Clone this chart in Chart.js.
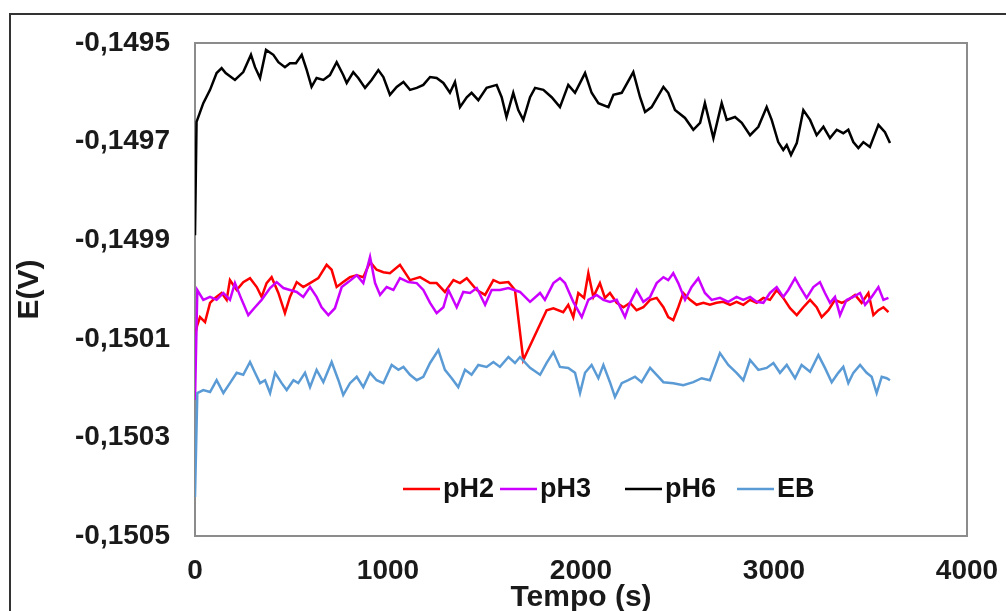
<!DOCTYPE html>
<html>
<head>
<meta charset="utf-8">
<script src="https://cdn.jsdelivr.net/npm/chart.js@4/dist/chart.umd.min.js"></script>
<style>
  html, body { margin: 0; padding: 0; background: #fff; overflow: hidden; }
  #frame { position: absolute; left: 9px; top: 13px; width: 1100px; height: 700px; border: 2px solid #333; }
  #wrap { position: absolute; left: 0; top: 0; width: 1006px; height: 620px; }
</style>
</head>
<body>
<div id="frame"></div>
<div id="wrap"><canvas id="grafico"></canvas></div>
<script>
// tempo (s) e potencial E(V)
var xTicks = [0, 1000, 2000, 3000, 4000];
var yTicks = [-0.1505, -0.1503, -0.1501, -0.1499, -0.1497, -0.1495];

var tPH6 = [0,8,43,78,112,138,159,207,250,290,311,337,368,406,432,466,492,523,553,579,604,630,665,699,734,768,786,820,846,881,915,950,976,1010,1045,1080,1114,1149,1183,1218,1252,1287,1321,1347,1373,1408,1433,1468,1511,1563,1589,1614,1649,1675,1701,1736,1762,1805,1848,1891,1934,1969,2021,2055,2090,2142,2168,2211,2271,2306,2332,2366,2427,2452,2487,2539,2582,2617,2642,2686,2729,2755,2798,2833,2876,2919,2962,2988,3022,3048,3066,3088,3118,3152,3187,3221,3256,3290,3325,3359,3385,3411,3437,3463,3497,3541,3575,3601];
var ePH6 = [-0.149890,-0.149660,-0.149622,-0.149595,-0.149561,-0.149551,-0.149561,-0.149575,-0.149559,-0.149524,-0.149549,-0.149571,-0.149514,-0.149524,-0.149539,-0.149549,-0.149541,-0.149541,-0.149524,-0.149555,-0.149589,-0.149571,-0.149575,-0.149565,-0.149539,-0.149565,-0.149581,-0.149559,-0.149571,-0.149591,-0.149575,-0.149555,-0.149569,-0.149605,-0.149589,-0.149579,-0.149595,-0.149591,-0.149585,-0.149569,-0.149571,-0.149581,-0.149601,-0.149579,-0.149630,-0.149610,-0.149601,-0.149616,-0.149591,-0.149585,-0.149610,-0.149650,-0.149601,-0.149636,-0.149656,-0.149610,-0.149591,-0.149595,-0.149610,-0.149630,-0.149585,-0.149601,-0.149561,-0.149601,-0.149622,-0.149630,-0.149605,-0.149601,-0.149559,-0.149610,-0.149640,-0.149630,-0.149589,-0.149601,-0.149636,-0.149652,-0.149676,-0.149662,-0.149622,-0.149693,-0.149622,-0.149656,-0.149650,-0.149662,-0.149687,-0.149670,-0.149630,-0.149656,-0.149701,-0.149717,-0.149707,-0.149727,-0.149703,-0.149636,-0.149656,-0.149687,-0.149670,-0.149693,-0.149676,-0.149683,-0.149676,-0.149701,-0.149713,-0.149701,-0.149711,-0.149666,-0.149681,-0.149703];

var tPH2 = [0,12,26,52,78,104,138,164,181,216,250,285,320,345,371,397,432,466,492,527,561,596,639,682,708,734,768,803,838,872,907,941,976,1010,1062,1114,1166,1218,1252,1295,1339,1373,1408,1460,1503,1546,1580,1624,1658,1701,1822,1857,1908,1934,1960,1986,2016,2038,2064,2098,2124,2150,2185,2220,2254,2288,2323,2358,2392,2427,2452,2478,2504,2530,2565,2599,2634,2668,2702,2737,2772,2806,2841,2876,2910,2945,2979,3014,3048,3083,3118,3152,3187,3221,3247,3282,3316,3351,3385,3420,3454,3489,3515,3541,3567,3593];
var ePH2 = [-0.150092,-0.150072,-0.150056,-0.150066,-0.150027,-0.150017,-0.150007,-0.150021,-0.149981,-0.150001,-0.149985,-0.149977,-0.149995,-0.150015,-0.149987,-0.149975,-0.150007,-0.150048,-0.150015,-0.149985,-0.149995,-0.149987,-0.149977,-0.149950,-0.149960,-0.149995,-0.149985,-0.149975,-0.149971,-0.149975,-0.149944,-0.149960,-0.149965,-0.149967,-0.149950,-0.149981,-0.149975,-0.149987,-0.149987,-0.150005,-0.149981,-0.149987,-0.149977,-0.150001,-0.150011,-0.149981,-0.149987,-0.149985,-0.150001,-0.150143,-0.150042,-0.150038,-0.150046,-0.150031,-0.150056,-0.150007,-0.150017,-0.149967,-0.150015,-0.149987,-0.150017,-0.150007,-0.150027,-0.150036,-0.150027,-0.150042,-0.150036,-0.150021,-0.150017,-0.150036,-0.150056,-0.150062,-0.150036,-0.150007,-0.150021,-0.150031,-0.150027,-0.150031,-0.150027,-0.150025,-0.150031,-0.150025,-0.150031,-0.150021,-0.150027,-0.150017,-0.150021,-0.150001,-0.150017,-0.150038,-0.150052,-0.150036,-0.150021,-0.150036,-0.150056,-0.150042,-0.150021,-0.150027,-0.150021,-0.150011,-0.150027,-0.150007,-0.150052,-0.150042,-0.150036,-0.150046];

var tPH3 = [0,12,43,78,112,147,181,207,242,276,311,345,389,423,458,492,527,561,596,630,656,691,725,760,794,838,872,907,933,959,993,1028,1062,1105,1149,1183,1218,1252,1287,1313,1356,1390,1425,1460,1503,1537,1580,1624,1684,1736,1788,1813,1857,1891,1917,1960,2004,2038,2081,2116,2150,2185,2228,2254,2288,2323,2358,2392,2427,2452,2478,2504,2539,2573,2608,2642,2677,2720,2763,2806,2841,2876,2910,2945,2979,3014,3048,3074,3109,3135,3169,3204,3238,3264,3290,3316,3342,3376,3411,3446,3472,3506,3541,3567,3593];
var ePH3 = [-0.150224,-0.150001,-0.150021,-0.150015,-0.150021,-0.150007,-0.150021,-0.149987,-0.150021,-0.150052,-0.150036,-0.150021,-0.149997,-0.149985,-0.149997,-0.150001,-0.150005,-0.150015,-0.149995,-0.150015,-0.150036,-0.150052,-0.150038,-0.149995,-0.149985,-0.149971,-0.149987,-0.149934,-0.149987,-0.150011,-0.149995,-0.150001,-0.149977,-0.149985,-0.149987,-0.150001,-0.150027,-0.150048,-0.150036,-0.150001,-0.150036,-0.150005,-0.150007,-0.149997,-0.150031,-0.150001,-0.150001,-0.149997,-0.150005,-0.150025,-0.150007,-0.150021,-0.149987,-0.149977,-0.149987,-0.150025,-0.150056,-0.150021,-0.150011,-0.150021,-0.150025,-0.150021,-0.150056,-0.150027,-0.150001,-0.150025,-0.150015,-0.149987,-0.149975,-0.149981,-0.149967,-0.149987,-0.150021,-0.149995,-0.149977,-0.150007,-0.150021,-0.150017,-0.150025,-0.150015,-0.150021,-0.150015,-0.150025,-0.150027,-0.150007,-0.149995,-0.150015,-0.150001,-0.149977,-0.149995,-0.150017,-0.149995,-0.149985,-0.150007,-0.150027,-0.150015,-0.150052,-0.150021,-0.150015,-0.150007,-0.150031,-0.150015,-0.149995,-0.150021,-0.150017];

var tEB = [0,12,43,78,112,147,181,216,250,285,311,337,363,389,415,449,475,510,535,570,596,630,665,708,743,768,803,838,872,907,941,976,1019,1054,1080,1114,1149,1183,1218,1261,1295,1330,1364,1399,1433,1468,1511,1546,1580,1624,1658,1684,1736,1788,1822,1857,1891,1934,1969,1995,2021,2055,2090,2116,2150,2176,2211,2245,2280,2314,2358,2392,2427,2478,2530,2582,2625,2668,2720,2763,2806,2841,2876,2919,2962,2997,3031,3066,3109,3143,3187,3230,3264,3299,3333,3359,3385,3411,3446,3480,3506,3532,3558,3584,3601];
var eEB = [-0.150421,-0.150210,-0.150204,-0.150208,-0.150184,-0.150210,-0.150190,-0.150169,-0.150173,-0.150147,-0.150169,-0.150190,-0.150184,-0.150210,-0.150169,-0.150190,-0.150204,-0.150184,-0.150190,-0.150169,-0.150198,-0.150163,-0.150188,-0.150147,-0.150184,-0.150214,-0.150190,-0.150177,-0.150198,-0.150169,-0.150184,-0.150190,-0.150153,-0.150163,-0.150157,-0.150173,-0.150184,-0.150177,-0.150149,-0.150123,-0.150163,-0.150180,-0.150198,-0.150163,-0.150173,-0.150153,-0.150157,-0.150147,-0.150157,-0.150137,-0.150149,-0.150137,-0.150159,-0.150173,-0.150149,-0.150127,-0.150157,-0.150159,-0.150169,-0.150210,-0.150169,-0.150153,-0.150180,-0.150153,-0.150188,-0.150218,-0.150190,-0.150184,-0.150177,-0.150188,-0.150159,-0.150173,-0.150188,-0.150190,-0.150194,-0.150188,-0.150180,-0.150184,-0.150129,-0.150153,-0.150169,-0.150184,-0.150143,-0.150163,-0.150159,-0.150149,-0.150169,-0.150153,-0.150180,-0.150153,-0.150167,-0.150133,-0.150159,-0.150188,-0.150169,-0.150157,-0.150190,-0.150169,-0.150153,-0.150169,-0.150177,-0.150210,-0.150177,-0.150180,-0.150184];

function pontos(t, e) {
    return t.map(function (x, i) { return { x: x, y: e[i] }; });
}

var fonte = 'Liberation Sans, Arial, sans-serif';

// moldura cinza da área do gráfico + legenda dentro do gráfico
var extras = {
    id: 'extras',
    beforeDatasetsDraw: function (chart) {
        var a = chart.chartArea, ctx = chart.ctx;
        ctx.save();
        ctx.strokeStyle = '#8c8c8c';
        ctx.lineWidth = 2;
        ctx.strokeRect(a.left, a.top, a.right - a.left, a.bottom - a.top);
        ctx.restore();
    },
    afterDatasetsDraw: function (chart) {
        var ctx = chart.ctx;
        var xs = [403, 500, 625, 737];
        var y = 489;
        ctx.save();
        ctx.font = 'bold 27px ' + fonte;
        ctx.textBaseline = 'middle';
        ctx.fillStyle = '#111';
        chart.data.datasets.forEach(function (ds, i) {
            ctx.strokeStyle = ds.borderColor;
            ctx.lineWidth = 2.5;
            ctx.beginPath();
            ctx.moveTo(xs[i], y);
            ctx.lineTo(xs[i] + 37, y);
            ctx.stroke();
            ctx.fillText(ds.label, xs[i] + 40, y + 1);
        });
        ctx.restore();
    }
};

var ctx = document.getElementById('grafico').getContext('2d');
var myChart = new Chart(ctx, {
    type: 'line',
    data: {
        datasets: [
            { label: 'pH2', data: pontos(tPH2, ePH2), borderColor: '#ff0000', order: 4 },
            { label: 'pH3', data: pontos(tPH3, ePH3), borderColor: '#cc00ff', order: 3 },
            { label: 'pH6', data: pontos(tPH6, ePH6), borderColor: '#000000', order: 2 },
            { label: 'EB', data: pontos(tEB, eEB), borderColor: '#5b9bd5', order: 1 }
        ]
    },
    options: {
        responsive: true,
        maintainAspectRatio: false,
        animation: false,
        datasets: { line: { borderWidth: 2.5, pointRadius: 0, tension: 0, fill: false } },
        layout: { padding: { left: 0, top: 43, right: 39, bottom: 0 } },
        plugins: { legend: { display: false }, tooltip: { enabled: false } },
        scales: {
            x: {
                type: 'linear',
                min: 0,
                max: 4000,
                grid: { display: false, drawTicks: false },
                border: { display: false },
                afterBuildTicks: function (scale) {
                    scale.ticks = xTicks.map(function (v) { return { value: v }; });
                },
                ticks: {
                    padding: 18,
                    color: '#1a1a1a',
                    font: { family: fonte, size: 28, weight: 'bold' },
                    callback: function (v) { return String(v); }
                },
                title: { display: true, text: 'Tempo (s)', color: '#1a1a1a', padding: { top: 0, bottom: 4 }, font: { family: fonte, size: 30, weight: 'bold' } },
                afterFit: function (scale) {
                    scale.height = 84;
                    scale.paddingLeft = 0;
                    scale.paddingRight = 0;
                }
            },
            y: {
                min: -0.1505,
                max: -0.1495,
                grid: { display: false, drawTicks: false },
                border: { display: false },
                afterBuildTicks: function (scale) {
                    scale.ticks = yTicks.map(function (v) { return { value: v }; });
                },
                ticks: {
                    padding: 25,
                    color: '#1a1a1a',
                    font: { family: fonte, size: 28, weight: 'bold' },
                    callback: function (v) { return v.toFixed(4).replace('.', ','); }
                },
                title: { display: true, text: 'E(V)', color: '#1a1a1a', padding: { top: 12, bottom: 0 }, font: { family: fonte, size: 30, weight: 'bold' } },
                afterFit: function (scale) {
                    scale.width = 195;
                    scale.paddingTop = 0;
                    scale.paddingBottom = 0;
                }
            }
        }
    },
    plugins: [extras]
});
</script>
</body>
</html>
